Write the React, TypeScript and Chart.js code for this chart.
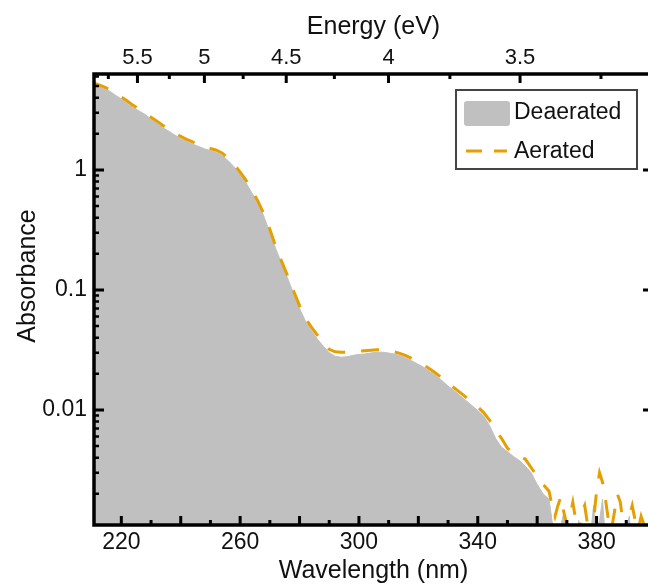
import React, { useEffect, useRef } from "react";
import { Chart, registerables } from "chart.js";

Chart.register(...registerables);

const WAVELENGTH = [
  210, 212, 214, 216, 218, 220, 222, 224, 226, 228, 230, 232, 234, 236, 238, 240,
  242, 244, 246, 248, 250, 252, 254, 256, 258, 260, 262, 264, 266, 268, 270, 272,
  274, 276, 278, 280, 282, 284, 286, 288, 290, 292, 294, 296, 298, 300, 302, 304,
  306, 308, 310, 312, 314, 316, 318, 320, 322, 324, 326, 328, 330, 332, 334, 336,
  338, 340, 342, 344, 346, 348, 350, 352, 354, 356, 358, 360, 362, 364,
  365, 366, 367, 368, 369, 370, 371, 372, 373, 374, 375, 376, 377, 378, 379, 380,
  381, 382, 383, 384, 385, 386, 387, 388, 389, 390, 391, 392, 393, 394, 395, 396,
  397, 398, 399, 400,
];

const DEAERATED = [
  5.3, 5.05, 4.8, 4.55, 4.2, 3.9, 3.6, 3.3, 3.1, 2.9, 2.65, 2.45, 2.25, 2.1, 1.95, 1.83,
  1.73, 1.64, 1.57, 1.5, 1.45, 1.4, 1.32, 1.19, 1.06, 0.92, 0.78, 0.64, 0.53, 0.41, 0.3, 0.22,
  0.165, 0.125, 0.093, 0.07, 0.055, 0.046, 0.039, 0.034, 0.03, 0.028, 0.0275, 0.0278, 0.0285, 0.029, 0.0293, 0.0298,
  0.0303, 0.0303, 0.0298, 0.0292, 0.0283, 0.027, 0.0255, 0.024, 0.0225, 0.0208, 0.0192, 0.0175, 0.0158, 0.0145, 0.0132, 0.012,
  0.0109, 0.0099, 0.0089, 0.0074, 0.0058, 0.0049, 0.0045, 0.0041, 0.0038, 0.0034, 0.003, 0.0024, 0.002, 0.0018,
  0.0012, 0.0008, 0.0007, 0.0011, 0.0014, 0.0008, 0.0006, 0.0007, 0.0005, 0.0012, 0.0007, 0.0005, 0.0006, 0.0009, 0.0016, 0.001,
  0.0012, 0.0018, 0.0008, 0.0006, 0.0005, 0.0007, 0.0006, 0.0005, 0.0008, 0.001, 0.0013, 0.0007, 0.0005, 0.0006, 0.0008, 0.0005,
  0.0006, 0.0007, 0.0005, 0.0006,
];

const AERATED = [
  5.4, 5.15, 4.95, 4.7, 4.35, 4.05, 3.75, 3.45, 3.22, 3.0, 2.75, 2.55, 2.35, 2.18, 2.03, 1.9,
  1.8, 1.71, 1.63, 1.56, 1.51, 1.46, 1.38, 1.25, 1.11, 0.96, 0.82, 0.67, 0.55, 0.43, 0.32, 0.23,
  0.172, 0.131, 0.098, 0.074, 0.058, 0.049, 0.042, 0.036, 0.032, 0.0305, 0.0302, 0.0303, 0.0305, 0.0308, 0.0312, 0.0315,
  0.0318, 0.0316, 0.031, 0.0304, 0.0295, 0.0282, 0.0267, 0.0252, 0.0236, 0.0218, 0.0201, 0.0184, 0.0167, 0.0153, 0.014, 0.0128,
  0.0116, 0.0106, 0.0095, 0.0082, 0.0068, 0.0058, 0.0048, 0.0044, 0.0041, 0.0039, 0.0033, 0.0028, 0.0024, 0.0021,
  0.0016, 0.0013, 0.0016, 0.0019, 0.0014, 0.0011, 0.0013, 0.0017, 0.0012, 0.0009, 0.0014, 0.0016, 0.0011, 0.0008, 0.0012, 0.0021,
  0.003, 0.0025, 0.0018, 0.0012, 0.001, 0.0014, 0.002, 0.0017, 0.0011, 0.0009, 0.0013, 0.0016, 0.0012, 0.001, 0.0013, 0.0011,
  0.0009, 0.0012, 0.001, 0.0011,
];

const X_TICKS = [220, 260, 300, 340, 380];
const ENERGY_TICKS = [5.5, 5, 4.5, 4, 3.5];
const ENERGY_MINOR = [5.75, 5.25, 4.75, 4.25, 3.75, 3.25];
const Y_TICKS = [0.01, 0.1, 1];
const SERIES_LABELS = ["Deaerated", "Aerated"];

const X_MIN = 210.8;
const X_MAX = 399;
const Y_MIN = 0.0011;
const Y_MAX = 6.3;
const HC = 1239.84;

const FONT = '"Liberation Sans", Arial, sans-serif';
const GRAY = "#c0c0c0";
const ORANGE = "#E69F00";
const INK = "#111111";

const framePlugin = {
  id: "frameTicks",
  afterDraw(chart: any) {
    const { ctx, chartArea } = chart;
    const { left, right, top, bottom } = chartArea;
    const x = chart.scales.x;
    const y = chart.scales.y;
    ctx.save();
    ctx.strokeStyle = "#000";
    ctx.lineWidth = 3;
    ctx.lineCap = "butt";
    for (let nm = 220; nm <= X_MAX; nm += 10) {
      const px = x.getPixelForValue(nm);
      const len = nm % 20 === 0 ? 9 : 5;
      ctx.beginPath();
      ctx.moveTo(px, bottom);
      ctx.lineTo(px, bottom - len);
      ctx.stroke();
    }
    const allE = [...ENERGY_TICKS.map((e) => [e, 9]), ...ENERGY_MINOR.map((e) => [e, 5])];
    for (const [e, len] of allE) {
      const px = x.getPixelForValue(HC / e);
      if (px < left || px > right) continue;
      ctx.beginPath();
      ctx.moveTo(px, top);
      ctx.lineTo(px, top + len);
      ctx.stroke();
    }
    for (let d = -3; d <= 0; d++) {
      for (let m = 1; m <= 9; m++) {
        const v = m * Math.pow(10, d);
        if (v < Y_MIN || v > Y_MAX) continue;
        const py = y.getPixelForValue(v);
        const len = m === 1 ? 10 : 5;
        ctx.lineWidth = m === 1 ? 3 : 2.5;
        ctx.beginPath();
        ctx.moveTo(left, py);
        ctx.lineTo(left + len, py);
        ctx.moveTo(right, py);
        ctx.lineTo(right - len, py);
        ctx.stroke();
      }
    }
    ctx.lineWidth = 3.5;
    ctx.strokeRect(left, top, right - left, bottom - top);

    ctx.fillStyle = INK;
    ctx.font = `25px ${FONT}`;
    ctx.textAlign = "center";
    ctx.textBaseline = "middle";
    ctx.translate(28, 276);
    ctx.rotate(-Math.PI / 2);
    ctx.fillText("Absorbance", 0, 0);
    ctx.restore();

    ctx.save();
    ctx.fillStyle = "#fff";
    ctx.fillRect(456, 90, 181, 79);
    ctx.strokeStyle = "#444";
    ctx.lineWidth = 2;
    ctx.strokeRect(456, 90, 181, 79);
    ctx.fillStyle = GRAY;
    ctx.beginPath();
    (ctx as any).roundRect(464, 101, 46, 25, 3);
    ctx.fill();
    ctx.strokeStyle = ORANGE;
    ctx.lineWidth = 3;
    ctx.setLineDash([16, 12]);
    ctx.beginPath();
    ctx.moveTo(466, 151);
    ctx.lineTo(507, 151);
    ctx.stroke();
    ctx.setLineDash([]);
    ctx.fillStyle = INK;
    ctx.font = `23px ${FONT}`;
    ctx.textAlign = "left";
    ctx.textBaseline = "middle";
    ctx.fillText(SERIES_LABELS[0], 514, 113);
    ctx.fillText(SERIES_LABELS[1], 514, 152);
    ctx.restore();
  },
};

export default function App() {
  const ref = useRef<HTMLCanvasElement | null>(null);

  useEffect(() => {
    if (!ref.current) return;
    const chart = new Chart(ref.current, {
      type: "line",
      data: {
        datasets: [
          {
            label: SERIES_LABELS[1],
            data: WAVELENGTH.map((w, i) => ({ x: w, y: AERATED[i] })),
            borderColor: ORANGE,
            borderWidth: 3,
            borderDash: [18, 16],
            pointRadius: 0,
            fill: false,
            tension: 0,
            order: 0,
          },
          {
            label: SERIES_LABELS[0],
            data: WAVELENGTH.map((w, i) => ({ x: w, y: DEAERATED[i] })),
            borderColor: GRAY,
            borderWidth: 1,
            backgroundColor: GRAY,
            pointRadius: 0,
            fill: "start",
            tension: 0,
            order: 1,
          },
        ],
      },
      options: {
        animation: false,
        responsive: false,
        devicePixelRatio: 1,
        layout: { padding: { left: 0, right: 7, top: 0, bottom: 0 } },
        plugins: { legend: { display: false }, tooltip: { enabled: false } },
        scales: {
          x: {
            type: "linear",
            position: "bottom",
            min: X_MIN,
            max: X_MAX,
            grid: { display: false, drawTicks: false },
            border: { display: false },
            afterBuildTicks: (s: any) => {
              s.ticks = X_TICKS.map((v) => ({ value: v }));
            },
            afterFit: (s: any) => {
              s.height = 61;
            },
            ticks: {
              autoSkip: false,
              maxRotation: 0,
              padding: 4,
              color: INK,
              font: { family: FONT, size: 23 },
              callback: (_v: any, i: number) => String(X_TICKS[i]),
            },
            title: {
              display: true,
              text: "Wavelength (nm)",
              color: INK,
              font: { family: FONT, size: 25 },
              padding: { top: 0, bottom: 0 },
            },
          },
          x2: {
            type: "linear",
            position: "top",
            min: X_MIN,
            max: X_MAX,
            grid: { display: false, drawTicks: false },
            border: { display: false },
            afterBuildTicks: (s: any) => {
              s.ticks = ENERGY_TICKS.map((e) => ({ value: HC / e }));
            },
            afterFit: (s: any) => {
              s.height = 74;
            },
            ticks: {
              autoSkip: false,
              maxRotation: 0,
              padding: 3,
              color: INK,
              font: { family: FONT, size: 22 },
              callback: (_v: any, i: number) => String(ENERGY_TICKS[i]),
            },
            title: {
              display: true,
              text: "Energy (eV)",
              color: INK,
              font: { family: FONT, size: 25 },
              padding: { top: 12, bottom: 0 },
            },
          },
          y: {
            type: "logarithmic",
            position: "left",
            min: Y_MIN,
            max: Y_MAX,
            grid: { display: false, drawTicks: false },
            border: { display: false },
            afterBuildTicks: (s: any) => {
              s.ticks = Y_TICKS.map((v) => ({ value: v }));
            },
            afterFit: (s: any) => {
              s.width = 94;
            },
            ticks: {
              autoSkip: false,
              padding: 7,
              color: INK,
              font: { family: FONT, size: 23 },
              callback: (_v: any, i: number) => String(Y_TICKS[i]),
            },
          },
        },
      } as any,
      plugins: [framePlugin],
    });
    return () => chart.destroy();
  }, []);

  return (
    <div
      style={{
        position: "fixed",
        left: 0,
        top: 0,
        width: 648,
        height: 586,
        overflow: "hidden",
        background: "#fff",
      }}
    >
      <canvas ref={ref} width={660} height={586} style={{ display: "block" }} />
    </div>
  );
}
